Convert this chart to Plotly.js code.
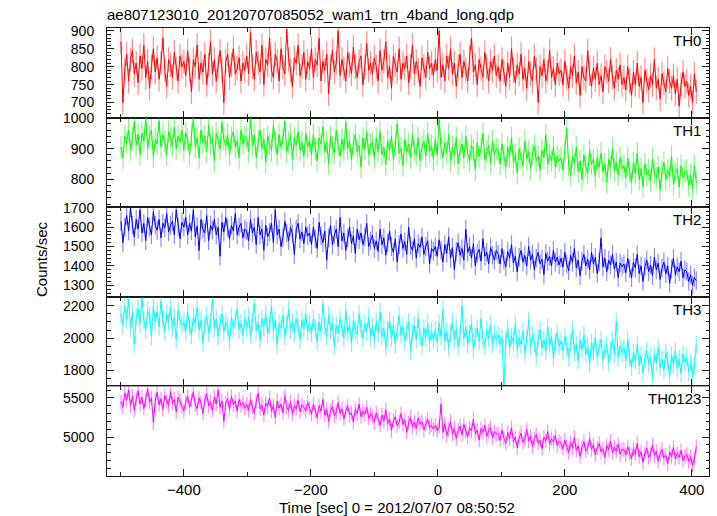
<!DOCTYPE html>
<html>
<head>
<meta charset="utf-8">
<script src="https://cdn.plot.ly/plotly-3.0.1.min.js"></script>
<style>
html,body{margin:0;padding:0;background:#fff;}
#chart{width:717px;height:516px;}
</style>
</head>
<body>
<div id="chart"></div>
<script>
// Time bins: start time and bin width (seconds), 0 = 2012/07/07 08:50:52
const TIME_START = -499;
const TIME_STEP = 3;

const bandNames = ["TH0", "TH1", "TH2", "TH3", "TH0123"];

const th0 = [
870,700,790,835,760,820,845,780,810,755,830,795,860,770,815,740,800,850,785,825,765,810,880,790,745,820,805,770,840,795,760,830,800,
815,775,845,790,730,820,800,860,765,810,785,835,750,805,870,780,820,760,800,845,790,700,815,835,770,805,850,780,795,825,760,810,790,
830,780,895,800,765,840,810,785,860,750,820,805,880,790,770,835,815,760,850,800,780,905,820,790,745,825,810,860,775,800,840,765,815,
795,850,770,820,805,880,760,815,790,835,725,800,845,785,810,900,775,820,795,760,840,805,780,855,800,770,815,830,750,800,865,790,810,
780,825,800,760,845,790,815,870,770,800,740,830,805,785,850,765,810,795,830,755,800,860,780,815,790,745,825,800,770,840,795,810,775,
820,790,900,770,805,760,830,795,850,780,810,745,800,835,770,815,790,760,825,880,785,805,750,820,795,770,840,800,760,815,790,830,775,
800,760,820,785,745,810,770,850,790,755,805,780,835,765,795,740,815,780,760,830,790,700,800,775,820,760,785,845,770,795,750,810,780,
790,750,815,770,740,800,775,830,755,785,720,800,770,760,845,780,745,795,765,810,750,775,730,800,785,760,820,770,740,790,765,805,750,
770,735,800,760,720,785,750,810,745,770,700,790,760,735,775,750,820,740,765,710,780,755,730,795,760,740,775,725,765,690,750,785,745,
760,720,745,700,780,730
];

const th1 = [
905,870,940,920,960,895,935,985,910,945,880,950,925,1000,900,940,960,875,930,915,990,905,945,925,880,955,935,910,970,900,940,920,960,
895,950,930,880,945,1000,905,935,870,960,920,940,890,975,915,935,860,950,925,900,985,930,910,945,880,935,955,905,925,870,960,915,940,
935,890,1000,910,945,870,925,960,900,930,855,940,915,895,975,920,880,945,905,930,990,890,920,945,865,935,910,955,895,920,875,950,905,
925,880,945,900,860,935,915,970,890,920,850,940,905,885,960,910,875,930,895,985,900,925,865,915,945,890,910,840,935,900,955,880,915,
920,870,935,890,955,880,905,850,925,895,940,865,910,980,885,900,845,930,890,915,870,945,895,880,935,860,905,925,875,950,890,910,865,
930,880,995,900,870,920,885,945,860,905,880,935,850,895,915,870,940,885,860,910,895,830,920,875,900,950,865,890,910,855,925,880,900,
895,850,915,870,840,905,875,935,855,880,820,900,870,845,925,865,890,835,880,910,860,875,830,895,870,945,850,880,860,905,840,875,860,
870,830,890,965,845,815,875,850,905,825,860,800,880,840,820,895,850,865,810,870,840,885,825,850,790,865,840,900,830,855,815,870,835,
845,805,870,825,790,855,820,885,800,835,775,850,815,830,795,865,820,805,840,765,825,855,800,830,810,875,785,820,835,775,845,805,825,
830,780,815,770,845,790
];

const th2 = [
1630,1520,1600,1660,1580,1700,1610,1550,1640,1590,1690,1570,1620,1530,1650,1600,1560,1680,1610,1585,1640,1545,1620,1595,1670,1575,1610,1630,1560,1690,1600,1540,1625,
1600,1650,1560,1620,1580,1690,1550,1605,1480,1640,1590,1570,1660,1530,1610,1585,1640,1560,1600,1450,1625,1575,1650,1595,1540,1610,1580,1670,1560,1600,1620,1545,1590,
1580,1530,1640,1570,1600,1510,1650,1560,1590,1480,1610,1550,1575,1620,1520,1690,1560,1590,1500,1545,1630,1570,1530,1600,1565,1460,1590,1620,1540,1575,1515,1600,1555,
1570,1510,1600,1540,1490,1625,1555,1520,1580,1430,1545,1610,1510,1560,1590,1500,1650,1530,1570,1480,1545,1600,1515,1555,1465,1590,1535,1570,1510,1550,1620,1500,1530,
1560,1490,1530,1475,1590,1510,1545,1455,1520,1580,1500,1470,1540,1420,1510,1565,1490,1525,1460,1600,1505,1480,1540,1440,1515,1495,1550,1460,1500,1530,1410,1490,1475,
1500,1450,1535,1480,1420,1510,1465,1550,1440,1495,1380,1475,1520,1455,1490,1430,1590,1470,1500,1440,1515,1400,1465,1485,1425,1540,1450,1470,1410,1495,1455,1430,1480,
1460,1410,1490,1430,1395,1475,1440,1510,1415,1450,1370,1445,1480,1420,1455,1400,1500,1430,1460,1380,1440,1470,1410,1435,1355,1465,1425,1450,1400,1480,1420,1445,1405,
1440,1395,1470,1410,1375,1455,1420,1490,1390,1430,1350,1425,1460,1400,1435,1380,1470,1410,1445,1360,1420,1545,1395,1440,1370,1430,1405,1460,1385,1420,1340,1415,1395,
1410,1365,1440,1385,1340,1420,1390,1460,1360,1400,1320,1395,1430,1370,1405,1350,1445,1380,1415,1330,1390,1420,1360,1400,1310,1385,1440,1355,1395,1370,1425,1340,1380,
1370,1320,1355,1300,1340,1325
];

const th3 = [
2150,2080,2200,2120,2240,2060,2160,1960,2130,2180,2090,2250,2110,2050,2170,2140,2010,2200,2100,2160,2070,2230,2120,2040,2150,2100,2190,2060,2130,1990,2170,2110,2080,
2100,2040,2160,2070,2020,2130,2090,2190,2050,2110,1970,2080,2140,2030,2100,2240,2060,2120,2010,2090,2150,2040,2100,2070,1980,2130,2060,2110,2180,2050,2090,2020,2120,
2060,2130,2020,2100,2210,2050,2090,1990,2120,2070,2150,2030,2080,2200,2040,2110,1960,2090,2060,2140,2010,2080,2180,2050,2100,2030,2120,2070,1990,2110,2060,2150,2040,
2090,2030,2120,2060,1980,2100,2040,2210,2070,2010,2140,2050,2090,1950,2080,2030,2120,2060,2000,2170,2040,2080,1970,2110,2050,2020,2150,2060,2000,2090,2040,2130,2010,
2070,1990,2100,2030,2160,2010,2060,1940,2050,2110,2000,2080,1960,2040,2140,2020,2070,1980,2050,2100,1920,2030,2080,1990,2120,2010,1950,2060,2000,2090,1970,2040,1990,
2050,1970,2090,2010,2180,1980,2040,1940,2030,2100,1990,2060,1950,2020,2200,2000,2070,1960,2030,2090,1930,2010,2060,1980,2120,1990,1950,2050,2000,2080,1960,2030,1990,
2020,1960,2000,1700,1990,2060,1940,2010,1980,2090,1930,2000,1960,2040,1910,1990,2110,1950,2020,1970,1890,2000,2050,1940,1990,1920,2070,1960,2010,1880,1980,2030,1950,
1980,1920,2010,1950,1880,1970,2050,1910,1960,1860,1990,1930,2020,1900,1950,1840,1970,1920,2000,1880,1940,1990,1860,1930,1960,1850,1920,1990,1900,2100,1880,1950,1910,
1940,1860,1990,1880,1820,1910,1860,1960,1830,1890,1780,1870,1920,1840,1880,1750,1900,1850,1940,1820,1870,1800,1910,1860,1760,1890,1840,1920,1810,1870,1780,1900,1850,
1880,1790,1850,1770,1830,1960
];

const th0123 = [
5450,5380,5560,5470,5600,5400,5520,5340,5480,5590,5420,5510,5360,5470,5620,5440,5500,5180,5460,5570,5410,5490,5350,5530,5450,5400,5580,5430,5480,5320,5510,5460,5390,
5330,5450,5520,5380,5470,5580,5410,5360,5500,5440,5300,5470,5550,5400,5450,5340,5510,5420,5600,5380,5460,5200,5430,5490,5350,5520,5410,5460,5330,5480,5400,5440,5370,
5420,5340,5480,5380,5300,5450,5560,5360,5410,5280,5430,5390,5500,5330,5400,5250,5460,5370,5420,5310,5520,5380,5340,5450,5290,5400,5360,5470,5320,5410,5380,5330,5440,
5370,5290,5420,5320,5250,5400,5330,5480,5280,5350,5200,5340,5390,5270,5320,5440,5300,5360,5230,5330,5400,5280,5310,5190,5350,5300,5420,5260,5330,5290,5380,5240,5300,
5260,5190,5310,5220,5150,5280,5200,5350,5170,5230,5080,5210,5260,5140,5190,5300,5160,5220,5060,5180,5250,5130,5190,5110,5240,5160,5200,5090,5170,5230,5120,5150,5100,
5150,5080,5130,5420,5060,5170,5020,5100,5200,5040,5110,4980,5090,5140,5030,5160,5070,5000,5120,5080,5230,5040,5090,4960,5110,5060,5150,5010,5080,5120,4990,5070,5040,
5040,4960,5090,4990,4920,5060,4980,5120,4940,5000,4860,4990,5050,4930,4970,5100,4950,5010,4880,4980,5030,4920,4960,4850,5000,4950,5070,4910,4980,4940,5020,4890,4950,
4920,4850,4960,4880,4800,4930,4860,5000,4830,4890,4750,4870,4940,4820,4860,4980,4840,4900,4770,4860,4920,4810,4850,4740,4890,4840,4950,4800,4870,4820,4910,4780,4840,
4840,4770,4880,4790,4720,4850,4780,4920,4750,4810,4680,4790,4860,4740,4780,4900,4760,4820,4690,4780,4840,4730,4770,4660,4810,4750,4870,4720,4790,4740,4830,4700,4760,
4780,4690,4750,4640,4720,4880
];

// Typical 1-sigma error of each band (counts/sec)
const bandErrors = [34, 36, 48, 56, 90];

const series = [th0, th1, th2, th3, th0123];
const lineColors = ["#ff0000", "#00ff00", "#0000ff", "#00ffff", "#ff00ff"];
const errColors = ["rgba(255,0,0,0.45)", "rgba(0,230,0,0.45)", "rgba(0,0,255,0.45)", "rgba(0,230,230,0.5)", "rgba(255,0,255,0.45)"];
const yRanges = [[658, 908], [710, 1000.5], [1241, 1703], [1700, 2256], [4503, 5646]];
const yDticks = [50, 100, 100, 200, 500];
const yMinor = [10, 20, 20, 50, 100];

const FONT = "Liberation Sans, Arial, Helvetica, sans-serif";
const AX = "#1a1a1a";

const traces = [];
const layout = {
  width: 717, height: 516,
  margin: {l: 107, r: 8, t: 28, b: 40},
  paper_bgcolor: "#ffffff", plot_bgcolor: "#ffffff",
  showlegend: false,
  font: {family: FONT, size: 15, color: "#000"},
  title: {text: "ae807123010_20120707085052_wam1_trn_4band_long.qdp",
          x: 107/717, xref: "container", xanchor: "left",
          y: 1 - 15/516, yref: "container", yanchor: "middle",
          font: {family: FONT, size: 15, color: "#000"}},
  annotations: []
};

series.forEach((vals, k) => {
  const t = vals.map((_, i) => TIME_START + i * TIME_STEP);
  const sx = k === 0 ? "" : String(k + 1);
  traces.push({
    type: "scatter", mode: "markers", x: t, y: vals,
    xaxis: "x" + sx, yaxis: "y" + sx,
    marker: {size: 1, opacity: 0},
    error_y: {type: "constant", value: bandErrors[k], visible: true, color: errColors[k], thickness: 1.2, width: 0},
    hoverinfo: "skip"
  });
  traces.push({
    type: "scatter", mode: "lines", x: t, y: vals,
    xaxis: "x" + sx, yaxis: "y" + sx,
    line: {color: lineColors[k], width: 1}
  });
  const top = 1 - k * 0.2, bot = top - 0.2;
  const isBottom = k === 4;
  layout["xaxis" + sx] = {
    domain: [0, 1], anchor: "y" + sx, range: [-521, 427],
    showgrid: false, zeroline: false,
    showline: true, linecolor: AX, linewidth: 1, mirror: "ticks",
    ticks: "inside", ticklen: 7, tickwidth: 1, tickcolor: AX, dtick: 200, tick0: 0,
    minor: {dtick: 100, ticks: "inside", ticklen: 4, tickcolor: AX, showgrid: false},
    showticklabels: isBottom,
    tickfont: {family: FONT, size: 15, color: "#000"},
    ticklabelstandoff: 0
  };
  layout["yaxis" + sx] = {
    domain: [bot, top], anchor: "x" + sx, range: yRanges[k],
    showgrid: false, zeroline: false,
    showline: true, linecolor: AX, linewidth: 1, mirror: "ticks",
    ticks: "inside", ticklen: 7, tickwidth: 1, tickcolor: AX, dtick: yDticks[k], tick0: 0,
    minor: {dtick: yMinor[k], ticks: "inside", ticklen: 3.5, tickcolor: AX, showgrid: false},
    tickfont: {family: FONT, size: 14, color: "#000"},
    ticklabelstandoff: 9
  };
  layout.annotations.push({
    text: bandNames[k], xref: "paper", yref: "paper", x: 0.99, y: top,
    xanchor: "right", yanchor: "top", yshift: -2, showarrow: false,
    font: {family: FONT, size: 15, color: "#000"}
  });
});

layout.annotations.push({
  text: "Time [sec] 0 = 2012/07/07 08:50:52", xref: "paper", yref: "paper",
  x: (396.5 - 107) / 602, y: (476 - 507) / 448, xanchor: "center", yanchor: "middle",
  showarrow: false, font: {family: FONT, size: 15, color: "#000"}
});
layout.annotations.push({
  text: "Counts/sec", xref: "paper", yref: "paper",
  x: (41 - 107) / 602, y: (476 - 259) / 448, xanchor: "center", yanchor: "middle",
  textangle: -90, showarrow: false, font: {family: FONT, size: 15, color: "#000"}
});

Plotly.newPlot("chart", traces, layout, {displayModeBar: false, staticPlot: true});
</script>
</body>
</html>
